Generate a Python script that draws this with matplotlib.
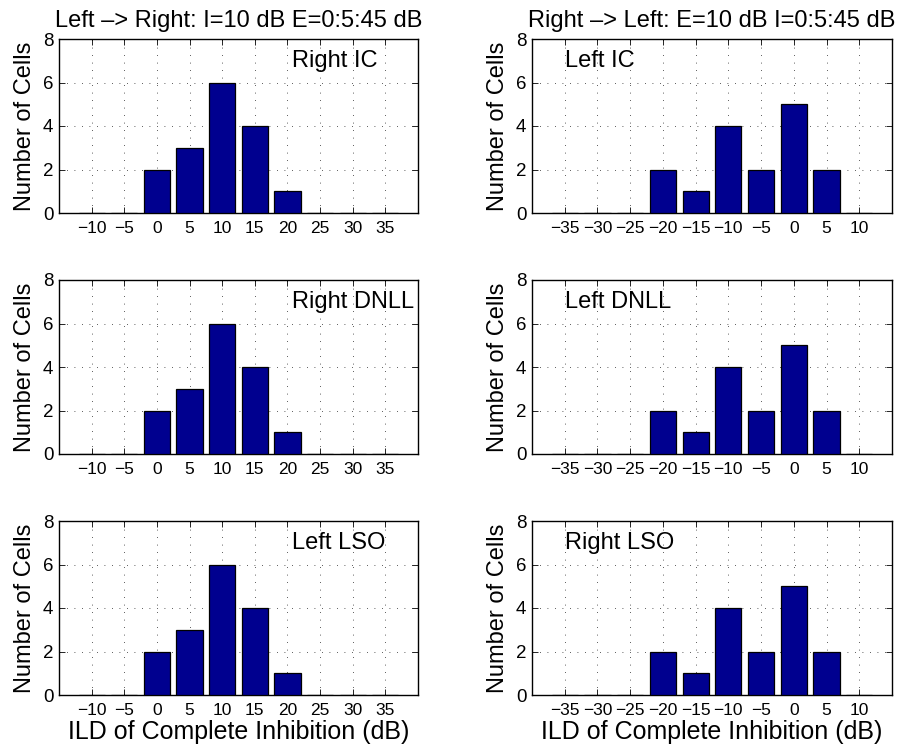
import matplotlib
matplotlib.use("Agg")
import matplotlib.pyplot as plt
import numpy as np

plt.rcParams['font.family'] = ['Liberation Sans', 'DejaVu Sans']

# Data
ild_left = [-10, -5, 0, 5, 10, 15, 20, 25, 30, 35]
ild_right = [-35, -30, -25, -20, -15, -10, -5, 0, 5, 10]
counts_right_ic = [0, 0, 2, 3, 6, 4, 1, 0, 0, 0]
counts_right_dnll = [0, 0, 2, 3, 6, 4, 1, 0, 0, 0]
counts_left_lso = [0, 0, 2, 3, 6, 4, 1, 0, 0, 0]
counts_left_ic = [0, 0, 0, 2, 1, 4, 2, 5, 2, 0]
counts_left_dnll = [0, 0, 0, 2, 1, 4, 2, 5, 2, 0]
counts_right_lso = [0, 0, 0, 2, 1, 4, 2, 5, 2, 0]

title_left = "Left –> Right: I=10 dB E=0:5:45 dB"
title_right = "Right –> Left: E=10 dB I=0:5:45 dB"
labels_left = ["Right IC", "Right DNLL", "Left LSO"]
labels_right = ["Left IC", "Left DNLL", "Right LSO"]
ylabel = "Number of Cells"
xlabel = "ILD of Complete Inhibition (dB)"

W, H = 903, 753
fig = plt.figure(figsize=(W / 100, H / 100), dpi=100)

bar_color = '#00008f'

col_x = [59, 532]
col_w = [359, 360]
row_top = [39, 280, 521]
row_h = 174

left_counts = [counts_right_ic, counts_right_dnll, counts_left_lso]
right_counts = [counts_left_ic, counts_left_dnll, counts_right_lso]


def make_ax(px, py, pw, ph):
    return fig.add_axes([px / W, 1 - (py + ph) / H, pw / W, ph / H])


def style(ax, xs, xlim):
    ax.set_xlim(*xlim)
    ax.set_ylim(0, 8)
    ax.set_xticks(xs)
    ax.set_xticklabels([("−%d" % -v) if v < 0 else str(v) for v in xs])
    ax.set_yticks([0, 2, 4, 6, 8])
    ax.grid(True, linestyle=(0, (1, 8)), color='black', linewidth=0.6, alpha=0.85)
    ax.set_axisbelow(True)
    ax.tick_params(direction='in', length=4, width=0.6,
                   top=True, right=True)
    ax.tick_params(axis='x', labelsize=12.5, pad=6)
    ax.tick_params(axis='y', labelsize=13.5, pad=4)
    for s in ax.spines.values():
        s.set_linewidth(1.0)
    ax.set_ylabel(ylabel, fontsize=17, labelpad=5)


for r in range(3):
    # left column
    ax = make_ax(col_x[0], row_top[r], col_w[0], row_h)
    ax.bar(ild_left, left_counts[r], width=4, color=bar_color,
           edgecolor='black', linewidth=0.9, zorder=3)
    style(ax, ild_left, (-15, 40))
    ax.text(20.7, 7, labels_left[r], fontsize=17, va='center', ha='left', zorder=4)
    if r == 0:
        ax.set_title(title_left, fontsize=17, pad=9)
    if r == 2:
        ax.set_xlabel(xlabel, fontsize=18, labelpad=1)

    # right column
    ax = make_ax(col_x[1], row_top[r], col_w[1], row_h)
    ax.bar(ild_right, right_counts[r], width=4, color=bar_color,
           edgecolor='black', linewidth=0.9, zorder=3)
    style(ax, ild_right, (-40, 15))
    ax.text(-35, 7, labels_right[r], fontsize=17, va='center', ha='left', zorder=4)
    if r == 0:
        ax.set_title(title_right, fontsize=17, pad=9)
    if r == 2:
        ax.set_xlabel(xlabel, fontsize=18, labelpad=1)

fig.savefig("out.png", dpi=100)
